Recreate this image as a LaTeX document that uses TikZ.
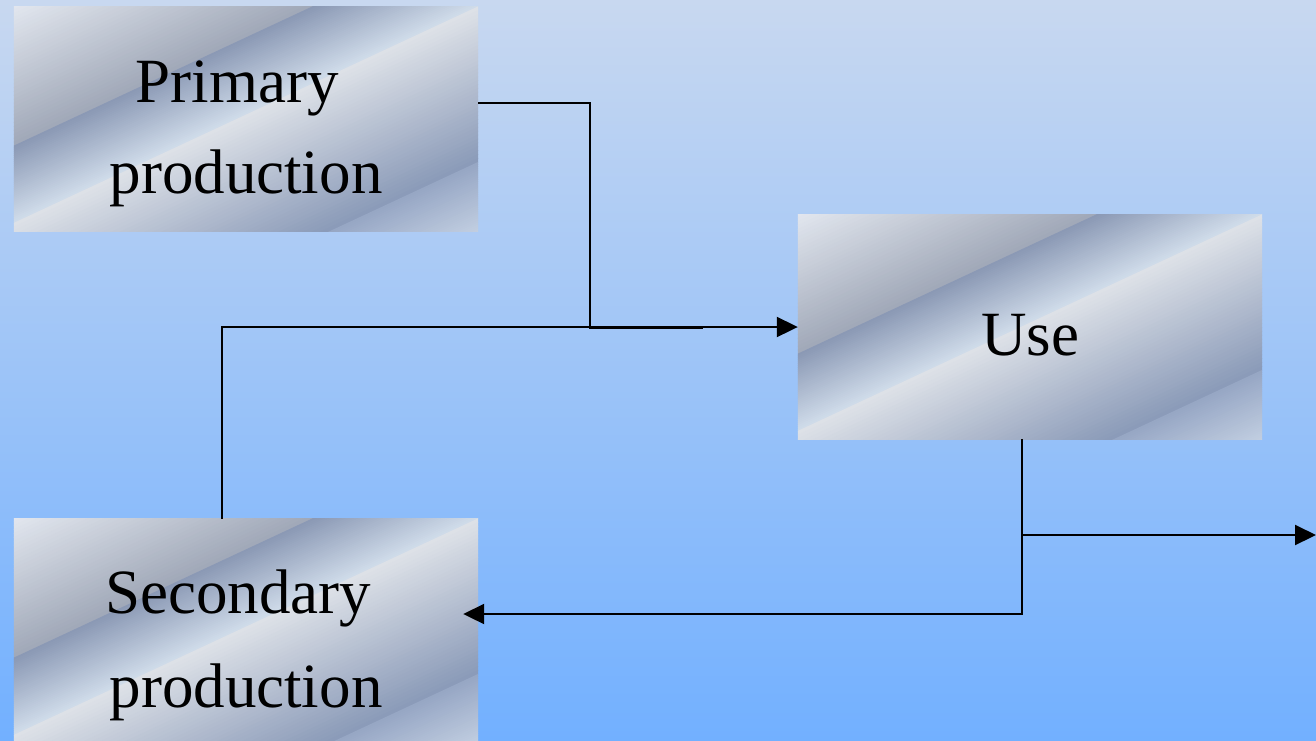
\documentclass[tikz,border=0pt]{standalone}
\usepackage{fontspec}
\newfontfamily\boxfont{Liberation Serif}
\usetikzlibrary{arrows.meta,calc}

% background
\definecolor{bgtop}{RGB}{200,216,240}
\definecolor{bgmid}{RGB}{146,196,250}
\definecolor{bgbot}{RGB}{114,176,255}
% brushed-metal bands of the boxes
\definecolor{mA}{RGB}{234,238,245}
\definecolor{mB}{RGB}{160,168,184}
\definecolor{mC}{RGB}{138,152,180}
\definecolor{mD}{RGB}{208,220,234}
\definecolor{mE}{RGB}{222,226,232}
\definecolor{mF}{RGB}{138,154,184}
\definecolor{mG}{RGB}{150,166,196}
\definecolor{mH}{RGB}{204,216,232}

% fills a box node with diagonal metal bands built from thin flat strips
\newcommand\metalfill[1]{%
  \begin{scope}
    \clip (#1.north west) rectangle (#1.south east);
    \begin{scope}[shift={(#1.center)}, rotate=-65]
      \foreach \ua/\ub/\ca/\cb in {-215/-74/mA/mB, -74/-4/mC/mD, -4/137/mE/mF, 137/215/mG/mH} {
        \foreach \i in {0,...,39} {
          \pgfmathsetmacro\sa{\ua+(\ub-\ua)*\i/40}
          \pgfmathsetmacro\sb{\ua+(\ub-\ua)*(\i+1)/40+0.6}
          \pgfmathsetmacro\pc{100-100*(\i+0.5)/40}
          \fill[\ca!\pc!\cb] (\sa pt,-320pt) rectangle (\sb pt,320pt);
        }
      }
    \end{scope}
  \end{scope}}

\tikzset{
  metal/.style={rectangle, minimum width=464pt, minimum height=224pt, inner sep=0pt},
  lbl/.style={font=\boxfont\fontsize{63}{92}\selectfont, anchor=base, inner sep=0pt},
  wire/.style={line width=2pt, black},
  arr/.style={wire, -{Triangle[length=21pt,width=20pt]}},
}

\begin{document}
\begin{tikzpicture}[x=1pt, y=-1pt]
  \useasboundingbox (0,0) rectangle (1316,740);
  \shade[top color=bgtop, middle color=bgmid, bottom color=bgbot] (0,0) rectangle (1316,740);

  % boxes
  \node[metal] (prim) at (246,119) {};
  \node[metal] (use)  at (1030,327) {};
  \node[metal] (sec)  at (246,631) {};
  \metalfill{prim}
  \metalfill{use}
  \metalfill{sec}

  % labels
  \node[lbl] (primA) at (237,102) {Primary};
  \node[lbl] (primB) at (246,193) {production};
  \node[lbl] (useT)  at (1030,355) {Use};
  \node[lbl] (secA)  at (238,613) {Secondary};
  \node[lbl] (secB)  at (246,707) {production};

  % junctions
  \coordinate (jp)  at (590,327.7);
  \coordinate (jpe) at (703,327.7);
  \coordinate (ju)  at (1022,535);
  \coordinate (out) at (1316,535);

  % connectors
  \draw[wire] ([yshift=16pt]prim.east) -| (jp) -- (jpe);
  \draw[arr] ([xshift=-24pt]sec.north) |- (use.west);
  \draw[arr] ([xshift=-8pt]use.south) |- ([xshift=-15pt,yshift=17pt]sec.east);
  \draw[arr] (ju) -- (out);
\end{tikzpicture}
\end{document}
